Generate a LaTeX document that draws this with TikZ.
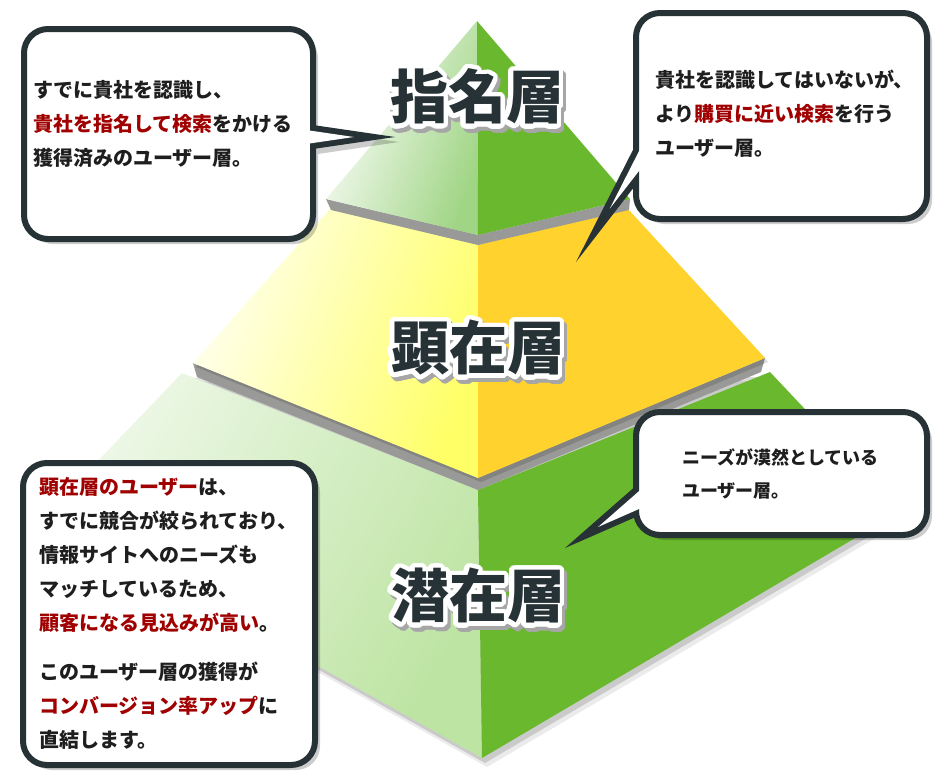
\documentclass[tikz,border=0pt]{standalone}
\usepackage{fontspec}
\setmainfont{Noto Sans CJK JP}
\usepackage{contour}
\contourlength{4.5pt}
\contournumber{40}
\usetikzlibrary{calc}
\definecolor{gR}{HTML}{6AB82E}
\definecolor{gL}{HTML}{A0D585}
\definecolor{gLL}{HTML}{BDE4A2}
\definecolor{gLW}{HTML}{EEF8E8}
\definecolor{yR}{HTML}{FFD22E}
\definecolor{yL}{HTML}{FFFF66}
\definecolor{yW}{HTML}{FFFFF0}
\definecolor{band}{HTML}{999A98}
\definecolor{ink}{HTML}{263236}
\definecolor{rd}{HTML}{A00000}
\definecolor{txt}{HTML}{1E1E1E}
\begin{document}
\begin{tikzpicture}[x=1pt,y=-1pt,
  layershadow/.style={fill=black,opacity=0.14},
  bandfill/.style={fill=band},
  bubshadow/.style={fill=black,opacity=0.2},
  bubbody/.style={fill=white,draw=ink,line width=6pt,rounded corners=24pt},
  btext/.style={anchor=base west,inner sep=0pt,align=left,font=\fontsize{20}{34}\selectfont\bfseries,text=txt},
  big/.style={font=\fontsize{58}{62}\selectfont\bfseries,inner sep=0pt},
]
\useasboundingbox (0,0) rectangle (945,782);

% ---------- pyramid coordinates ----------
\coordinate (A) at (477,21);
\coordinate (T1) at (326,199); \coordinate (T2) at (478,235); \coordinate (T3) at (630,199);
\coordinate (M1) at (330,209); \coordinate (M2) at (478,245); \coordinate (M3) at (628,209);
\coordinate (M4) at (765,358); \coordinate (M5) at (478,478); \coordinate (M6) at (193,363);
\coordinate (L1) at (182,373); \coordinate (L2) at (478,490); \coordinate (L3) at (770,372);
\coordinate (L4) at (901,511); \coordinate (L5) at (482,758); \coordinate (L6) at (47,514);

% ---------- bottom layer ----------
\fill[layershadow] ($(L1)+(3,5)$) -- ($(L3)+(3,5)$) -- ($(L4)+(3,5)$) -- ($(L5)+(3,5)$) -- ($(L6)+(3,5)$) -- cycle;
\fill[black,opacity=0.08] ($(L1)+(5,9)$) -- ($(L3)+(5,9)$) -- ($(L4)+(5,9)$) -- ($(L5)+(5,9)$) -- ($(L6)+(5,9)$) -- cycle;
\shade[top color=gLW,bottom color=gLL,shading angle=60] (L1) -- (L2) -- (L5) -- (L6) -- cycle;
\fill[gR] (L2) -- (L3) -- (L4) -- (L5) -- cycle;

% ---------- band 2 ----------
\fill[bandfill] (M6) -- (M5) -- (M4) -- (761,372) -- (L2) -- (197,377) -- cycle;

% ---------- middle layer ----------
\fill[layershadow] ($(M1)+(3,4)$) -- ($(M3)+(3,4)$) -- ($(M4)+(3,4)$) -- ($(M5)+(3,4)$) -- ($(M6)+(3,4)$) -- cycle;
\shade[top color=yW,bottom color=yL,shading angle=70] (M1) -- (M2) -- (M5) -- (M6) -- cycle;
\fill[yR] (M2) -- (M3) -- (M4) -- (M5) -- cycle;

% ---------- band 1 ----------
\fill[bandfill] (T1) -- (T2) -- (T3) -- (629,210) -- (M2) -- (331,210) -- cycle;

% ---------- top layer ----------
\shade[top color=white,bottom color=gL,shading angle=70] (A) -- (T1) -- (T2) -- cycle;
\fill[gR] (A) -- (T2) -- (T3) -- cycle;

% ---------- big labels ----------
\node[big,text=black!35] (sh1) at (480,103) {\contour{black!35}{指名層}};
\node[big,text=ink] (lab1) at (477,99) {\contour{white}{指名層}};
\node[big,text=black!35] (sh2) at (481,354) {\contour{black!35}{顕在層}};
\node[big,text=ink] (lab2) at (478,350) {\contour{white}{顕在層}};
\node[big,text=black!35] (sh3) at (481,602) {\contour{black!35}{潜在層}};
\node[big,text=ink] (lab3) at (478,598) {\contour{white}{潜在層}};

% ---------- bubble 1 (top left) ----------
\fill[bubshadow,rounded corners=24pt] (29,34) rectangle (318,244);
\fill[bubshadow] (318,130) -- (399,142) -- (318,154) -- cycle;
\fill[ink] (313,125) -- (395,137) -- (313,149) -- cycle;
\draw[bubbody] (24,29) rectangle (313,239);
\fill[white] (300,129.1) -- (353.8,137) -- (300,144.9) -- cycle;
\node[btext] (t1) at (33,165.5) {すでに貴社を認識し、\\
\textcolor{rd}{貴社を指名して検索}をかける\\
獲得済みのユーザー層。};

% ---------- bubble 2 (top right) ----------
\fill[bubshadow,rounded corners=24pt] (641,18) rectangle (932,224);
\fill[ink] (638,140) -- (576,262) -- (638,182) -- cycle;
\draw[bubbody] (636,13) rectangle (927,219);
\fill[white] (649.5,130.5) -- (609.8,208.6) -- (642.6,166.3) -- cycle;
\node[btext] (t2) at (655,155.6) {貴社を認識してはいないが、\\
より\textcolor{rd}{購買に近い検索}を行う\\
ユーザー層。};

% ---------- bubble 3 (bottom right) ----------
\fill[bubshadow,rounded corners=24pt] (641,417) rectangle (932,540);
\fill[ink] (638,484) -- (565,548) -- (638,516) -- cycle;
\draw[bubbody] (636,412) rectangle (927,535);
\fill[white] (649.3,482.1) -- (598.2,526.9) -- (642.9,507.3) -- cycle;
\node[btext,font=\fontsize{18}{33}\selectfont\bfseries] (t3) at (682,497) {ニーズが漠然としている\\
ユーザー層。};

% ---------- bubble 4 (bottom left) ----------
\fill[bubshadow,rounded corners=24pt] (28,468) rectangle (320,770);
\draw[bubbody] (23,463) rectangle (315,765);
\node[btext] (t4) at (39,747.6) {\textcolor{rd}{顕在層のユーザー}は、\\
すでに競合が絞られており、\\
情報サイトへのニーズも\\
マッチしているため、\\
\textcolor{rd}{顧客になる見込みが高い}。\\[15pt]
このユーザー層の獲得が\\
\textcolor{rd}{コンバージョン率アップ}に\\
直結します。};
\end{tikzpicture}
\end{document}
